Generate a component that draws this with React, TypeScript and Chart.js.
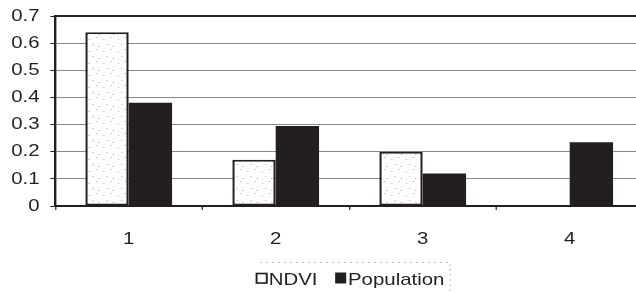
import React, { useEffect, useRef } from "react";
import { Chart, registerables } from "chart.js";

Chart.register(...registerables);

const categories = ["1", "2", "3", "4"];
const ndviValues = [0.64, 0.17, 0.2, 0];
const populationValues = [0.38, 0.295, 0.12, 0.235];
const seriesNames = ["NDVI", "Population"];

const STRETCH = 1.2;
const LOGICAL_W = 536;
const H = 293;
const FONT = "'Liberation Sans', Arial, sans-serif";

function makeDotPattern(): CanvasPattern | string {
  const c = document.createElement("canvas");
  c.width = 12;
  c.height = 12;
  const g = c.getContext("2d");
  if (!g) return "#ffffff";
  g.fillStyle = "#ffffff";
  g.fillRect(0, 0, 12, 12);
  g.fillStyle = "#b5b5b5";
  g.fillRect(2, 3, 1, 1);
  g.fillRect(8, 1, 1, 1);
  g.fillRect(5, 8, 1, 1);
  g.fillRect(10, 10, 1, 1);
  const p = g.createPattern(c, "repeat");
  return p || "#ffffff";
}

const stretchPlugin = {
  id: "stretchAndDecor",
  beforeDraw(chart: any) {
    const ctx = chart.ctx;
    ctx.save();
    ctx.setTransform(STRETCH, 0, 0, 1, 0, 0);
  },
  afterDatasetsDraw(chart: any) {
    const { ctx, chartArea } = chart;
    ctx.save();
    ctx.strokeStyle = "#231f20";
    ctx.lineWidth = 2;
    ctx.beginPath();
    ctx.moveTo(chartArea.left, chartArea.top);
    ctx.lineTo(chartArea.right, chartArea.top);
    ctx.stroke();
    ctx.restore();
  },
  afterDraw(chart: any) {
    const ctx = chart.ctx;
    ctx.save();
    ctx.strokeStyle = "#c8c8c8";
    ctx.lineWidth = 1;
    ctx.setLineDash([2, 3]);
    ctx.beginPath();
    ctx.moveTo(216.5, 262.5);
    ctx.lineTo(375, 262.5);
    ctx.lineTo(375, 293);
    ctx.stroke();
    ctx.setLineDash([]);
    ctx.fillStyle = "#ffffff";
    ctx.fillRect(213.8, 273.5, 8.5, 9.5);
    ctx.strokeStyle = "#231f20";
    ctx.lineWidth = 1.6;
    ctx.strokeRect(213.8, 273.5, 8.5, 9.5);
    ctx.fillStyle = "#231f20";
    ctx.fillRect(279.3, 272.5, 9.2, 11);
    ctx.font = `17px ${FONT}`;
    ctx.textBaseline = "alphabetic";
    ctx.textAlign = "left";
    ctx.fillStyle = "#231f20";
    ctx.fillText(seriesNames[0], 224, 284.5);
    ctx.fillText(seriesNames[1], 290, 284.5);
    ctx.restore();
    ctx.restore();
  },
};

export default function App() {
  const ref = useRef<HTMLCanvasElement | null>(null);

  useEffect(() => {
    document.body.style.margin = "0";
    const canvas = ref.current;
    if (!canvas) return;
    const pattern = makeDotPattern();
    const chart = new Chart(canvas, {
      type: "bar",
      data: {
        labels: categories,
        datasets: [
          {
            label: seriesNames[0],
            data: ndviValues,
            backgroundColor: pattern as any,
            borderColor: "#231f20",
            borderWidth: 2,
            borderSkipped: false,
          },
          {
            label: seriesNames[1],
            data: populationValues,
            backgroundColor: "#231f20",
            borderColor: "#231f20",
            borderWidth: 0,
          },
        ],
      },
      options: {
        animation: false,
        responsive: false,
        devicePixelRatio: 1,
        layout: { padding: { top: 16, right: 0, bottom: 0, left: 0 } },
        plugins: {
          legend: { display: false },
          tooltip: { enabled: false },
        },
        datasets: {
          bar: { categoryPercentage: 0.59, barPercentage: 1 },
        },
        scales: {
          x: {
            afterFit: (s: any) => {
              s.height = 87;
            },
            grid: {
              offset: true,
              drawOnChartArea: false,
              drawTicks: true,
              tickLength: 4,
              color: "#231f20",
            },
            border: { color: "#231f20", width: 2 },
            ticks: {
              color: "#231f20",
              padding: 19,
              font: { family: FONT, size: 17 },
            },
          },
          y: {
            min: 0,
            max: 0.7,
            afterFit: (s: any) => {
              s.width = 46;
            },
            grid: {
              color: "#8a8a8a",
              lineWidth: 1,
              tickLength: 4,
              tickColor: "#231f20",
            },
            border: { color: "#231f20", width: 2 },
            ticks: {
              stepSize: 0.1,
              color: "#231f20",
              padding: 9,
              font: { family: FONT, size: 17, lineHeight: 0.7 },
              callback: (v: any) => (Math.round(Number(v) * 10) / 10).toString(),
            },
          },
        },
      },
      plugins: [stretchPlugin],
    });
    canvas.width = Math.round(LOGICAL_W * STRETCH);
    canvas.height = H;
    canvas.style.width = `${Math.round(LOGICAL_W * STRETCH)}px`;
    canvas.style.height = `${H}px`;
    chart.draw();
    return () => chart.destroy();
  }, []);

  return (
    <div style={{ width: 636, height: 293, overflow: "hidden", position: "relative", background: "#fff" }}>
      <canvas ref={ref} width={LOGICAL_W} height={H} style={{ display: "block" }} />
    </div>
  );
}
